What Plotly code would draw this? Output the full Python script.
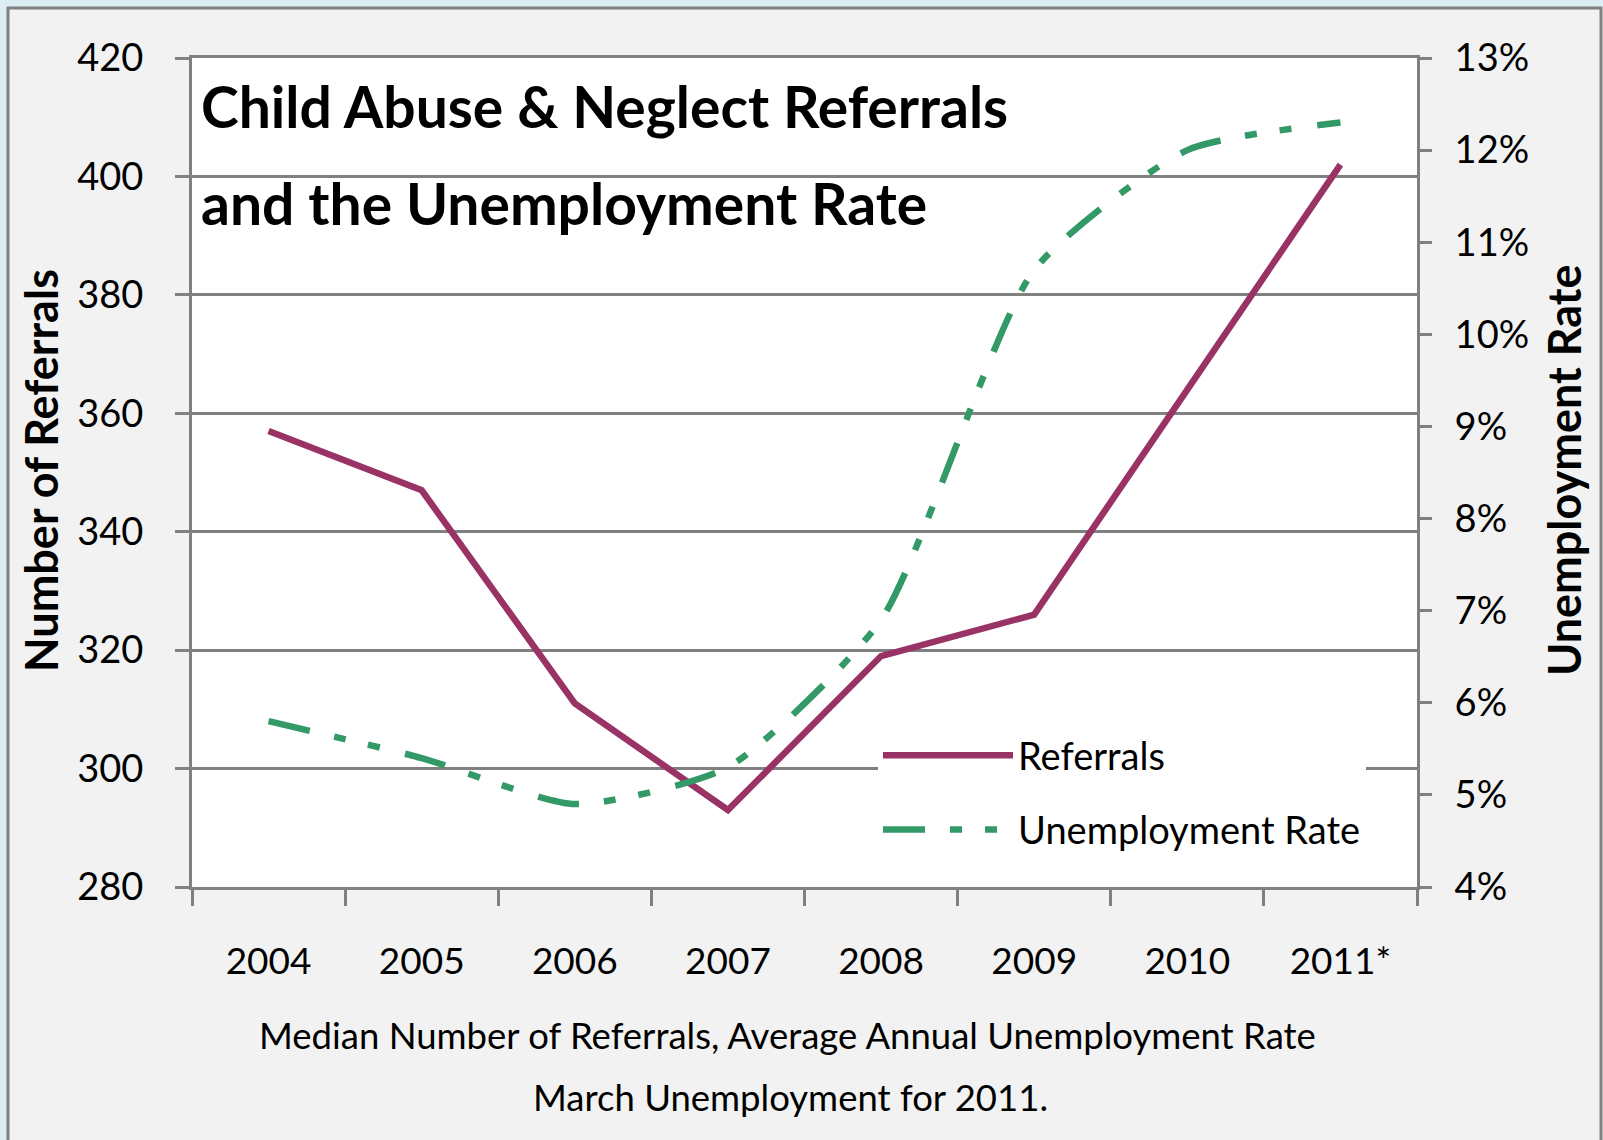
import plotly.graph_objects as go

# ---- data ----
years = ["2004", "2005", "2006", "2007", "2008", "2009", "2010", "2011*"]
referrals = [357, 347, 311, 293, 319, 326, 364, 402]
unemployment = [0.058, 0.054, 0.049, 0.053, 0.069, 0.107, 0.120, 0.123]

left_ticks = [280, 300, 320, 340, 360, 380, 400, 420]
right_ticks = [0.04, 0.05, 0.06, 0.07, 0.08, 0.09, 0.10, 0.11, 0.12, 0.13]

# ---- layout geometry (pixels) ----
W, H = 1603, 1140
L, R, T, B = 192, 1417, 58, 887

def fx(x):
    return (x - L) / (R - L)

def fy(y):
    return (B - y) / (B - T)

GRAY = "#808080"
FONT = "Lato"
PURPLE = "#993366"
GREEN = "#339966"

fig = go.Figure()
fig.add_trace(go.Scatter(
    x=years, y=referrals, name="Referrals", mode="lines",
    line=dict(color=PURPLE, width=6.5), legendgroup="a",
))
fig.add_trace(go.Scatter(
    x=years, y=unemployment, name="Unemployment Rate", mode="lines",
    line=dict(color=GREEN, width=6.5, shape="spline", smoothing=0.6,
              dash="42px,25px,12px,23px,12px,26px"),
    yaxis="y2", legendgroup="b",
))

fig.update_layout(
    width=W, height=H,
    margin=dict(l=L, r=W - R, t=T, b=H - B, autoexpand=False),
    paper_bgcolor="#F2F2F2",
    plot_bgcolor="white",
    font=dict(family=FONT, color="black"),
    showlegend=True,
    legend=dict(
        x=fx(878), y=fy(724), xanchor="left", yanchor="top",
        bgcolor="white", borderwidth=0,
        font=dict(family=FONT, size=38, color="black"),
        itemwidth=130, tracegroupgap=22,
    ),
    xaxis=dict(
        type="category", tickson="boundaries", range=[-0.5, 7.5],
        showgrid=False, showline=True, linecolor=GRAY, linewidth=3,
        mirror=True,
        ticks="outside", ticklen=16, tickwidth=3, tickcolor=GRAY,
        tickfont=dict(family=FONT, size=37, color="black"),
        ticklabelstandoff=40,
        zeroline=False,
    ),
    yaxis=dict(
        range=[280, 420], tickvals=left_ticks,
        showgrid=True, gridcolor=GRAY, gridwidth=3,
        showline=True, linecolor=GRAY, linewidth=3,
        ticks="outside", ticklen=14, tickwidth=3, tickcolor=GRAY,
        tickfont=dict(family=FONT, size=38, color="black"),
        ticklabelstandoff=24,
        zeroline=False,
    ),
    yaxis2=dict(
        overlaying="y", side="right",
        range=[0.04, 0.13], tickvals=right_ticks, tickformat=".0%",
        showgrid=False,
        showline=True, linecolor=GRAY, linewidth=3,
        ticks="outside", ticklen=12, tickwidth=3, tickcolor=GRAY,
        tickfont=dict(family=FONT, size=38, color="black"),
        ticklabelstandoff=15,
        zeroline=False,
    ),
)

# outer frame: light blue page strip and grey chart border
fig.add_shape(type="rect", xref="paper", yref="paper",
              xsizemode="pixel", ysizemode="pixel", xanchor=0, yanchor=0,
              x0=-L, x1=-L + 8, y0=-(H - B), y1=B,
              fillcolor="#DAEEF3", line_width=0, layer="below")
fig.add_shape(type="rect", xref="paper", yref="paper",
              xsizemode="pixel", ysizemode="pixel", xanchor=0, yanchor=0,
              x0=-L, x1=W - L, y0=B - 7, y1=B,
              fillcolor="#DAEEF3", line_width=0, layer="below")
fig.add_shape(type="rect", xref="paper", yref="paper",
              xsizemode="pixel", ysizemode="pixel", xanchor=0, yanchor=0,
              x0=8 - L, x1=1601 - L, y0=-(H - B) - 10, y1=B - 8,
              fillcolor="rgba(0,0,0,0)", line=dict(color=GRAY, width=3),
              layer="below")

# chart title inside the plot area
fig.add_annotation(text="Child Abuse & Neglect Referrals", xref="paper", yref="paper",
                   x=fx(199), y=fy(106), xanchor="left", yanchor="middle",
                   showarrow=False, font=dict(family=FONT, size=57, color="black", weight="bold"))
fig.add_annotation(text="and the Unemployment Rate", xref="paper", yref="paper",
                   x=fx(199), y=fy(203), xanchor="left", yanchor="middle",
                   showarrow=False, font=dict(family=FONT, size=57, color="black", weight="bold"))

# axis titles
fig.add_annotation(text="Number of Referrals", xref="paper", yref="paper",
                   x=fx(41), y=fy(471), xanchor="center", yanchor="middle", textangle=-90,
                   showarrow=False, font=dict(family=FONT, size=45, color="black", weight="bold"))
fig.add_annotation(text="Unemployment Rate", xref="paper", yref="paper",
                   x=fx(1564), y=fy(471), xanchor="center", yanchor="middle", textangle=-90,
                   showarrow=False, font=dict(family=FONT, size=45, color="black", weight="bold"))

# caption below the axis
fig.add_annotation(text="Median Number of Referrals, Average Annual Unemployment Rate",
                   xref="paper", yref="paper", x=fx(787), y=fy(1035),
                   xanchor="center", yanchor="middle", showarrow=False,
                   font=dict(family=FONT, size=36.5, color="black"))
fig.add_annotation(text="March Unemployment for 2011.",
                   xref="paper", yref="paper", x=fx(790), y=fy(1097),
                   xanchor="center", yanchor="middle", showarrow=False,
                   font=dict(family=FONT, size=36.5, color="black"))

fig.write_html("out.html")
